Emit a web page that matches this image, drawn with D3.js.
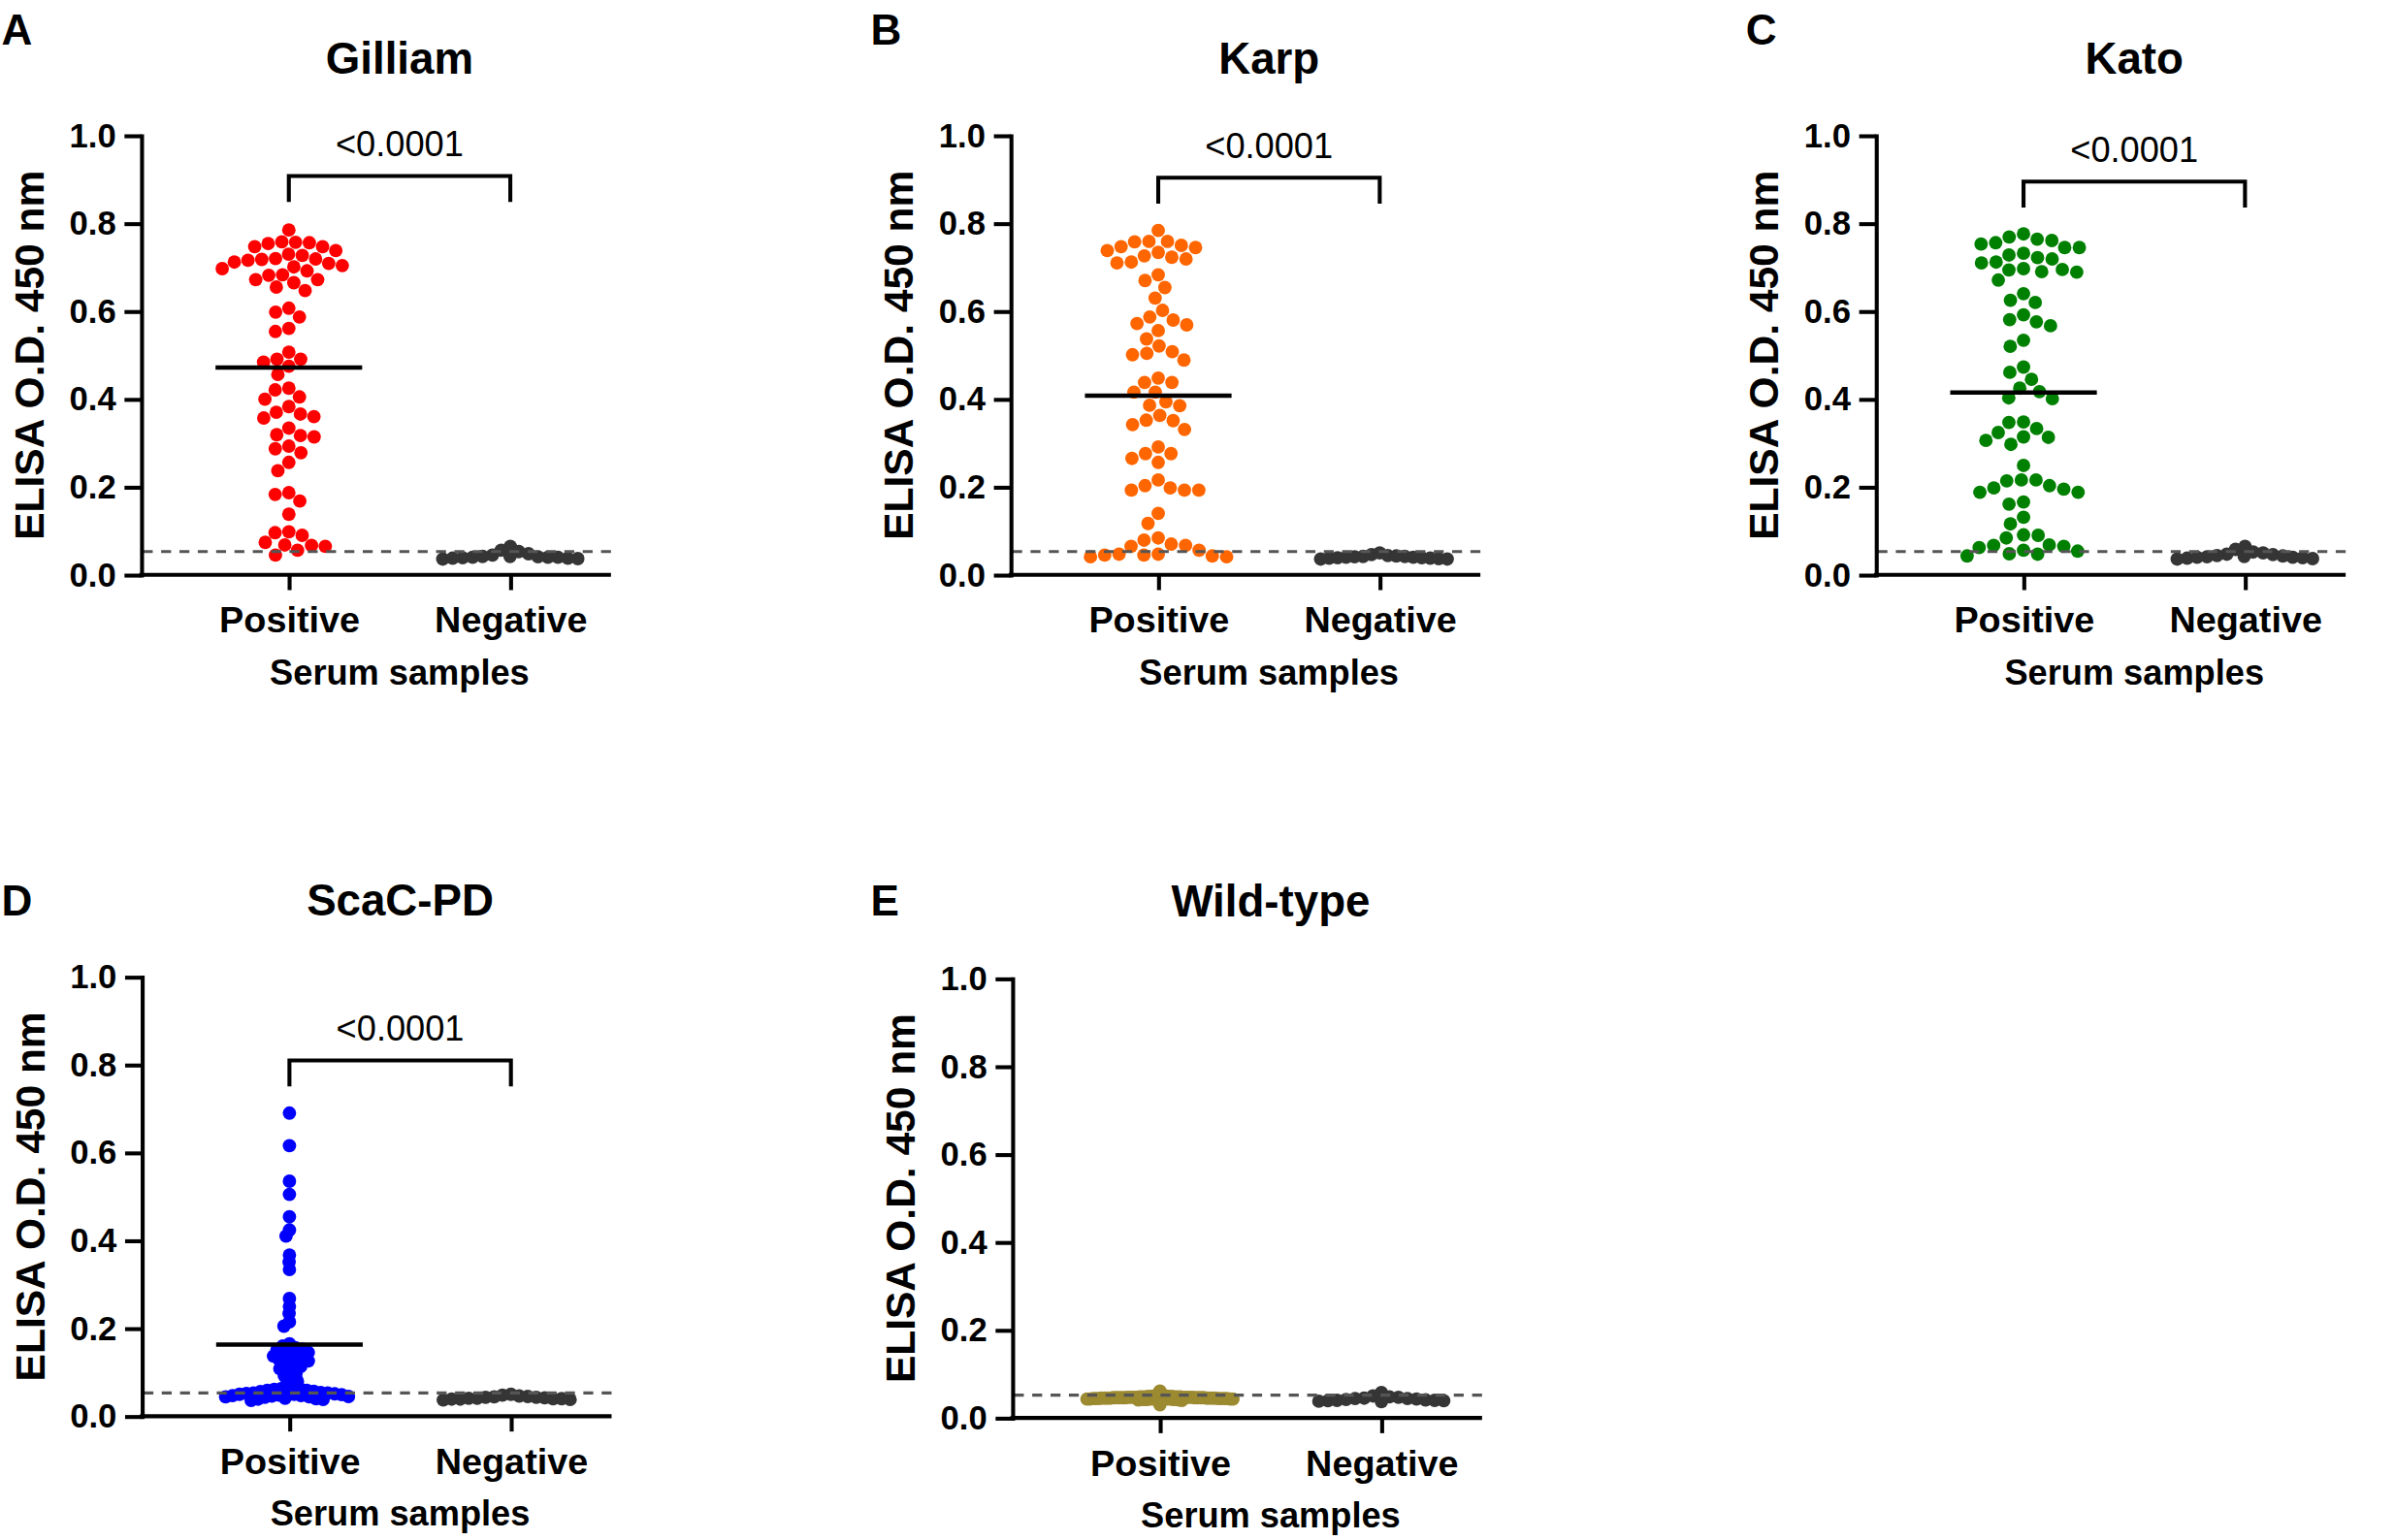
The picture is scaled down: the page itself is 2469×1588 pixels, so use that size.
<!DOCTYPE html>
<html><head><meta charset="utf-8">
<script src="https://cdn.jsdelivr.net/npm/d3@7"></script>
<style>html,body{margin:0;padding:0;background:#fff;} svg{display:block;}</style>
</head><body>
<svg id="chart" width="2469" height="1588" viewBox="0 0 1568 1008"></svg>
<script>
// ---------------- DATA ----------------
const categories = ["Positive", "Negative"];
const antigens = ["Gilliam", "Karp", "Kato", "ScaC-PD", "Wild-type"];
const panelLetters = ["A", "B", "C", "D", "E"];
const yTickValues = [0.0, 0.2, 0.4, 0.6, 0.8, 1.0];
const xAxisTitle = "Serum samples";
const yAxisTitle = "ELISA O.D. 450 nm";
const pValueLabels = ["<0.0001", "<0.0001", "<0.0001", "<0.0001", null];
const cutoffValues = [0.053, 0.053, 0.053, 0.053, 0.052];
const positiveMeans = [0.472, 0.408, 0.415, 0.163, null];

const gilliamPositive = [0.785,0.747,0.756,0.754,0.758,0.738,0.730,0.747,0.757,
  0.712,0.718,0.720,0.727,0.716,0.704,0.697,0.709,0.701,0.719,
  0.682,0.672,0.692,0.683,0.672,0.665,0.655,0.647,
  0.598,0.587,0.607,0.561,0.554,
  0.507,0.491,0.491,0.484,0.475,0.456,
  0.425,0.421,0.400,0.405,0.383,
  0.366,0.357,0.360,0.370,
  0.317,0.334,0.314,0.319,
  0.293,0.287,0.278,0.256,0.237,
  0.187,0.168,0.183,0.138,
  0.090,0.096,0.098,0.074,
  0.056,0.065,0.068,0.067,0.045];
const gilliamNegative = [0.042,0.065,0.045,0.056,0.036,0.053,0.040,0.048,0.038,0.039,0.041,0.037,0.040,0.042,0.038,0.040];

const karpPositive = [0.784,0.747,0.734,0.719,0.745,0.759,0.759,0.758,0.738,0.750,
  0.710,0.712,0.726,0.723,
  0.670,0.683,0.654,
  0.630,0.602,0.587,0.580,0.569,0.572,0.556,
  0.537,0.521,0.504,0.489,0.508,0.501,
  0.438,0.438,0.448,0.416,0.416,
  0.385,0.394,0.386,0.363,0.352,0.351,0.342,0.331,
  0.291,0.265,0.276,0.276,0.256,
  0.216,0.193,0.193,0.203,0.198,0.193,
  0.140,0.117,
  0.079,0.070,0.056,0.067,0.065,0.084,
  0.045,0.041,0.043,0.045,0.041,0.047,0.047];
const karpNegative = [0.046,0.050,0.042,0.044,0.040,0.038,0.043,0.036,0.039,0.041,0.037,0.040,0.038,0.042,0.039,0.036];

const katoPositive = [0.769,0.764,0.761,0.776,0.753,0.745,0.756,
  0.732,0.728,0.745,0.722,0.719,
  0.710,0.697,0.694,0.712,0.695,0.689,0.690,
  0.671,
  0.640,0.625,0.620,0.592,0.567,0.581,0.576,
  0.534,0.520,
  0.461,0.445,0.473,0.425,0.417,0.403,0.401,
  0.347,0.333,0.324,0.348,0.314,0.313,0.297,0.306,
  0.249,
  0.216,0.214,0.188,0.195,0.198,0.188,0.216,0.203,
  0.161,0.166,0.131,0.116,
  0.091,0.068,0.062,0.065,0.067,0.090,0.084,
  0.054,0.043,0.047,0.056,0.048];
const katoNegative = [0.052,0.058,0.047,0.065,0.044,0.050,0.040,0.046,0.038,0.042,0.039,0.041,0.037,0.040,0.036,0.043];

const scacPositive = [0.690,0.616,0.535,0.505,0.454,0.424,0.410,0.367,0.351,0.334,
  0.268,0.250,0.234,0.215,0.205,
  0.165,0.160,0.156,0.153,0.151,0.147,0.145,0.142,0.139,0.137,0.134,0.131,
  0.128,0.126,0.121,0.117,0.113,0.108,0.103,0.097,0.092,0.086,0.080,0.073,
  0.066,0.063,0.063,0.061,0.059,0.059,0.057,0.056,0.056,0.054,0.053,0.053,0.052,0.051,0.050,
  0.050,0.049,0.048,0.047,0.047,0.046,0.045,0.044,0.044,0.043,0.041,0.040,0.039,0.038,0.036];
const scacNegative = [0.048,0.045,0.050,0.043,0.041,0.046,0.039,0.044,0.040,0.042,0.038,0.041,0.040,0.039,0.043,0.037];

const wildPositive = [0.046,0.044,0.048,0.045,0.043,0.047,0.049,0.042,0.046,0.044,
  0.050,0.045,0.043,0.047,0.041,0.046,0.048,0.044,0.052,0.045,
  0.043,0.047,0.061,0.049,0.044,0.046,0.042,0.048,0.045,0.050,
  0.043,0.046,0.044,0.047,0.041,0.045,0.049,0.043,0.046,0.048,
  0.044,0.047,0.042,0.045,0.051,0.046,0.043,0.048,0.044,0.046,
  0.045,0.042,0.047,0.044,0.049,0.043,0.046,0.040,0.045,0.047,
  0.044,0.048,0.043,0.046,0.042,0.045,0.047,0.052,0.030];
const wildNegative = [0.047,0.058,0.044,0.050,0.042,0.045,0.039,0.048,0.040,0.043,0.038,0.041,0.037,0.044,0.040,0.039];

const positiveSeries = [gilliamPositive, karpPositive, katoPositive, scacPositive, wildPositive];
const negativeSeries = [gilliamNegative, karpNegative, katoNegative, scacNegative, wildNegative];

// ---------------- LAYOUT / STYLE ----------------
const positiveColors = ["#ff0000", "#ff6600", "#008000", "#0000ff", "#9c8a30"];
const negativeColor = "#353535";
const layout = {
  offsets: [[0,0],[569.2,0],[1135.7,0],[0.4,551],[570.3,552.1]],
  letterPos: [[1,29],[570,29],[1143,29],[1,599],[570,599]],
  bracketLevel: [0.908, 0.904, 0.895, 0.81, null],
  axisX: 92.5, yTop: 88.5, yBottom: 376.2,
  posOffset: 96.6, negOffset: 241.6, axisLen: 307.5,
  dotR: 4.4, dotSep: 9.6, maxHalf: 45, meanHalf: 48
};
const FONT = "'Liberation Sans', Arial, Helvetica, sans-serif";

// ---------------- SWARM ----------------
function swarmOffsets(pys, d) {
  const order = d3.range(pys.length).sort((a, b) => pys[a] - pys[b]);
  const placed = [], out = new Array(pys.length);
  for (const i of order) {
    const py = pys[i];
    const near = placed.filter(q => Math.abs(q.y - py) < d);
    const cands = [0];
    near.forEach(q => { const h = Math.sqrt(d*d - (q.y-py)*(q.y-py)); cands.push(q.x - h, q.x + h); });
    cands.sort((a, b) => Math.abs(a) - Math.abs(b) || a - b);
    const ok = cands.find(c => near.every(q => (q.x-c)*(q.x-c) + (q.y-py)*(q.y-py) >= d*d*0.999));
    out[i] = ok; placed.push({x: ok, y: py});
  }
  return out;
}
function fitSwarm(pys, d, maxHalf) {
  for (let f = 1; f >= 0.2; f -= 0.02) {
    const o = swarmOffsets(pys, d*f);
    if (d3.max(o, Math.abs) <= maxHalf) return o;
  }
  return swarmOffsets(pys, d*0.2);
}

// ---------------- DRAW ----------------
const svg = d3.select("#chart");

antigens.forEach((name, p) => {
  const [dx, dy] = layout.offsets[p];
  const ox = layout.axisX + dx;
  const y = d3.scaleLinear().domain([0, 1]).range([layout.yBottom + dy, layout.yTop + dy]);
  const x = d3.scalePoint().domain(categories).range([ox + layout.posOffset, ox + layout.negOffset]);
  const xEnd = ox + layout.axisLen;
  const g = svg.append("g");
  const mid = (x(categories[0]) + x(categories[1])) / 2;

  g.append("text").attr("x", layout.letterPos[p][0]).attr("y", layout.letterPos[p][1])
    .attr("font-family", FONT).attr("font-weight", "bold").attr("font-size", 28)
    .text(panelLetters[p]);
  g.append("text").attr("x", mid).attr("y", 48 + dy).attr("text-anchor", "middle")
    .attr("font-family", FONT).attr("font-weight", "bold").attr("font-size", 29)
    .text(name);

  const groups = [positiveSeries[p], negativeSeries[p]];
  groups.forEach((vals, gi) => {
    const pys = vals.map(v => y(v));
    const offs = fitSwarm(pys, layout.dotSep, layout.maxHalf);
    const cx = x(categories[gi]);
    g.append("g").selectAll("circle").data(vals).join("circle")
      .attr("cx", (v, i) => cx + offs[i]).attr("cy", v => y(v)).attr("r", layout.dotR)
      .attr("fill", gi === 0 ? positiveColors[p] : negativeColor);
  });

  g.append("line").attr("x1", ox + 1).attr("x2", xEnd + 3)
    .attr("y1", y(cutoffValues[p])).attr("y2", y(cutoffValues[p]))
    .attr("stroke", "#555").attr("stroke-width", 2).attr("stroke-dasharray", "6.5,5.5");

  if (positiveMeans[p] !== null) {
    const cx = x(categories[0]);
    g.append("line").attr("x1", cx - layout.meanHalf).attr("x2", cx + layout.meanHalf)
      .attr("y1", y(positiveMeans[p])).attr("y2", y(positiveMeans[p]))
      .attr("stroke", "#000").attr("stroke-width", 2.8);
  }

  const ya = g.append("g").attr("transform", `translate(${ox},0)`)
    .call(d3.axisLeft(y).tickValues(yTickValues).tickFormat(d3.format(".1f"))
      .tickSize(11).tickSizeOuter(0).tickPadding(5.5));
  ya.selectAll("path,line").attr("stroke", "#000").attr("stroke-width", 2.6);
  ya.select(".domain").attr("stroke-linecap", "square");
  ya.selectAll("text").attr("font-family", FONT).attr("font-weight", "bold")
    .attr("font-size", 22).attr("fill", "#000");

  g.append("line").attr("x1", ox - 1.3).attr("x2", xEnd).attr("y1", y(0)).attr("y2", y(0))
    .attr("stroke", "#000").attr("stroke-width", 2.6);
  const xa = g.append("g").attr("transform", `translate(0,${y(0)})`)
    .call(d3.axisBottom(x).tickSize(10).tickSizeOuter(0));
  xa.select(".domain").remove();
  xa.selectAll("line").attr("stroke", "#000").attr("stroke-width", 2.6);
  xa.selectAll("text").attr("font-family", FONT).attr("font-weight", "bold")
    .attr("font-size", 24).attr("fill", "#000").attr("y", 37.8).attr("dy", 0);

  g.append("text").attr("x", mid).attr("y", 448 + dy).attr("text-anchor", "middle")
    .attr("font-family", FONT).attr("font-weight", "bold").attr("font-size", 23)
    .text(xAxisTitle);
  g.append("text").attr("transform", `translate(${28.6 + dx},${(y(0) + y(1)) / 2}) rotate(-90)`)
    .attr("text-anchor", "middle").attr("font-family", FONT).attr("font-weight", "bold")
    .attr("font-size", 27).text(yAxisTitle);

  if (pValueLabels[p]) {
    const top = y(layout.bracketLevel[p]);
    const x1 = x(categories[0]), x2 = x(categories[1]);
    g.append("path").attr("d", `M${x1},${top + 17}V${top}H${x2}V${top + 17}`)
      .attr("fill", "none").attr("stroke", "#000").attr("stroke-width", 2.6);
    g.append("text").attr("x", mid).attr("y", top - 13).attr("text-anchor", "middle")
      .attr("font-family", FONT).attr("font-size", 23).text(pValueLabels[p]);
  }
});
</script>
</body></html>
